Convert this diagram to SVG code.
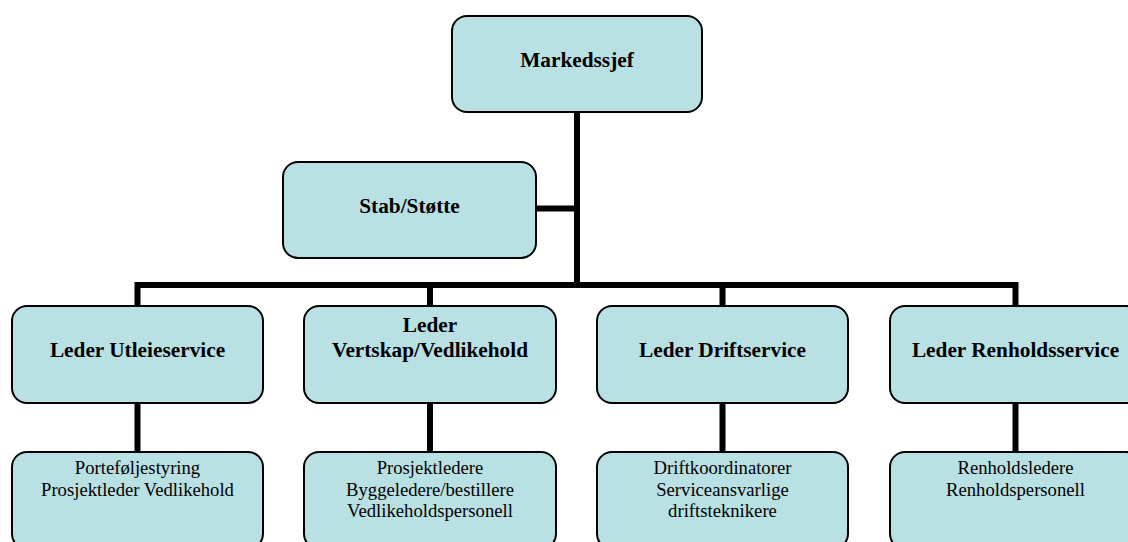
<svg xmlns="http://www.w3.org/2000/svg" width="1128" height="542" viewBox="0 0 1128 542">
  <style>
    .box { fill: #B9E0E3; stroke: #000; stroke-width: 2; }
    .head { font-family: "Liberation Serif", "Times New Roman", serif; font-weight: bold; font-size: 21.3px; fill: #000; text-anchor: middle; }
    .sub { font-family: "Liberation Serif", "Times New Roman", serif; font-size: 18.67px; fill: #000; text-anchor: middle; }
    .line { stroke: #000; stroke-width: 6; fill: none; }
  </style>
  <rect width="1128" height="542" fill="#fff"/>

  <!-- connectors -->
  <g id="connectors">
    <path class="line" d="M577 112 V285"/>
    <path class="line" d="M536 208.5 H577"/>
    <path class="line" d="M137.5 306 V285 H1015.5 V306"/>
    <path class="line" d="M430 285 V306"/>
    <path class="line" d="M722.5 285 V306"/>
    <path class="line" d="M137.5 403 V452"/>
    <path class="line" d="M430 403 V452"/>
    <path class="line" d="M722.5 403 V452"/>
    <path class="line" d="M1015.5 403 V452"/>
  </g>

  <!-- top level -->
  <g id="markedssjef">
    <rect class="box" x="452" y="16" width="250" height="96" rx="15"/>
    <text class="head" x="577" y="67">Markedssjef</text>
  </g>

  <g id="stab">
    <rect class="box" x="283" y="162" width="253" height="96" rx="15"/>
    <text class="head" x="409.5" y="213">Stab/Støtte</text>
  </g>

  <!-- second level -->
  <g id="leder-utleie">
    <rect class="box" x="12" y="306" width="251" height="97" rx="15"/>
    <text class="head" x="137.5" y="357">Leder Utleieservice</text>
  </g>

  <g id="leder-vertskap">
    <rect class="box" x="304" y="306" width="252" height="97" rx="15"/>
    <text class="head" x="430" y="332">Leder</text>
    <text class="head" x="430" y="357">Vertskap/Vedlikehold</text>
  </g>

  <g id="leder-drift">
    <rect class="box" x="597" y="306" width="251" height="97" rx="15"/>
    <text class="head" x="722.5" y="357">Leder Driftservice</text>
  </g>

  <g id="leder-renhold">
    <rect class="box" x="890" y="306" width="251" height="97" rx="15"/>
    <text class="head" x="1015.5" y="357">Leder Renholdsservice</text>
  </g>

  <!-- third level (boxes run past the lower edge of the page) -->
  <g id="utleie-staff">
    <rect class="box" x="12" y="452" width="251" height="97" rx="15"/>
    <text class="sub" x="137.5" y="474">Porteføljestyring</text>
    <text class="sub" x="137.5" y="495.5">Prosjektleder Vedlikehold</text>
  </g>

  <g id="vertskap-staff">
    <rect class="box" x="304" y="452" width="252" height="97" rx="15"/>
    <text class="sub" x="430" y="474">Prosjektledere</text>
    <text class="sub" x="430" y="495.5">Byggeledere/bestillere</text>
    <text class="sub" x="430" y="517">Vedlikeholdspersonell</text>
  </g>

  <g id="drift-staff">
    <rect class="box" x="597" y="452" width="251" height="97" rx="15"/>
    <text class="sub" x="722.5" y="474">Driftkoordinatorer</text>
    <text class="sub" x="722.5" y="495.5">Serviceansvarlige</text>
    <text class="sub" x="722.5" y="517">driftsteknikere</text>
  </g>

  <g id="renhold-staff">
    <rect class="box" x="890" y="452" width="251" height="97" rx="15"/>
    <text class="sub" x="1015.5" y="474">Renholdsledere</text>
    <text class="sub" x="1015.5" y="495.5">Renholdspersonell</text>
  </g>
</svg>
